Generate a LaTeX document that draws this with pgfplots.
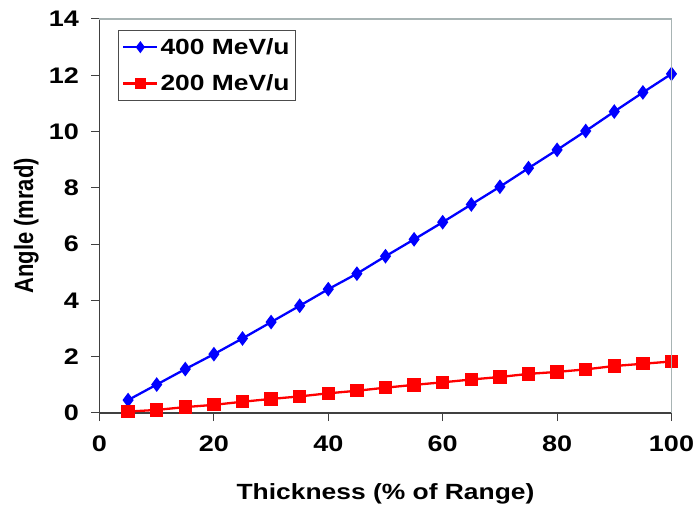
\documentclass[border=0pt]{standalone}
\usepackage{fontspec}
\setmainfont{Liberation Sans}
\usepackage{pgfplots}
\pgfplotsset{compat=1.18}
\definecolor{rimgray}{HTML}{A8B4B4}
\begin{document}
\begin{tikzpicture}[x=1pt,y=1pt]
\useasboundingbox (0,0) rectangle (696,514);
\begin{axis}[
  at={(99.5pt,101pt)}, anchor=south west,
  scale only axis, width=572pt, height=394pt,
  xmin=0, xmax=100, ymin=0, ymax=14,
  xtick={0,20,...,100}, ytick={0,2,...,14},
  axis x line*=bottom, axis y line*=left,
  axis line style={-, line width=1.2pt, black!75},
  tick align=outside, major tick length=8pt,
  tick style={line width=1pt, black!75},
  /pgf/number format/assume math mode=true,
  tick label style={font=\bfseries\fontsize{22.5}{22.5}\selectfont},
  xticklabel={\scalebox{1.2}[1]{\pgfmathprintnumber{\tick}}},
  yticklabel={\scalebox{1.2}[1]{\pgfmathprintnumber{\tick}}},
  xticklabel style={yshift=-11pt},
  yticklabel style={xshift=-9pt},
  xlabel={\scalebox{1.2}[1]{Thickness (\% of Range)}},
  ylabel={\scalebox{1}[1.2]{Angle (mrad)}},
  label style={font=\bfseries\fontsize{22}{22}\selectfont},
  xlabel style={at={(axis description cs:0.5,-0.206)}, anchor=center},
  ylabel style={at={(axis description cs:-0.128,0.475)}, anchor=center},
  legend cell align=left,
  legend image code/.code={
    \draw[mark repeat=2, mark phase=2, #1, mark size=4.2pt] plot coordinates {(0pt,0pt)(17pt,0pt)(34pt,0pt)};
  },
  legend style={font=\bfseries\fontsize{22}{22}\selectfont, at={(0.032,0.972)}, anchor=north west,
    draw=black!70, line width=0.8pt, inner xsep=4pt, inner ysep=6pt, row sep=15pt},
  after end axis/.code={
    \draw[rimgray, line width=1.2pt] (rel axis cs:0,1) -- (rel axis cs:1,1) -- (rel axis cs:1,0);
  },
  clip=false,
]
\addplot[color=blue, line width=2.3pt, mark=diamond*, mark size=5.5pt, mark options={solid, fill=blue}]
coordinates {(5,0.46)(10,1.01)(15,1.56)(20,2.09)(25,2.65)(30,3.23)(35,3.81)(40,4.40)(45,4.95)(50,5.57)
(55,6.17)(60,6.78)(65,7.41)(70,8.04)(75,8.70)(80,9.35)(85,10.02)(90,10.71)(95,11.39)(100,12.05)};
\addplot[color=red, line width=2.3pt, mark=square*, mark size=5.5pt, mark options={solid, fill=red}]
coordinates {(5,0.05)(10,0.11)(15,0.21)(20,0.29)(25,0.40)(30,0.50)(35,0.59)(40,0.70)(45,0.79)(50,0.90)
(55,1.00)(60,1.09)(65,1.19)(70,1.28)(75,1.39)(80,1.46)(85,1.55)(90,1.67)(95,1.75)(100,1.83)};
\legend{\scalebox{1.2}[1]{400 MeV/u}, \scalebox{1.2}[1]{200 MeV/u}}
\end{axis}
\end{tikzpicture}
\end{document}
